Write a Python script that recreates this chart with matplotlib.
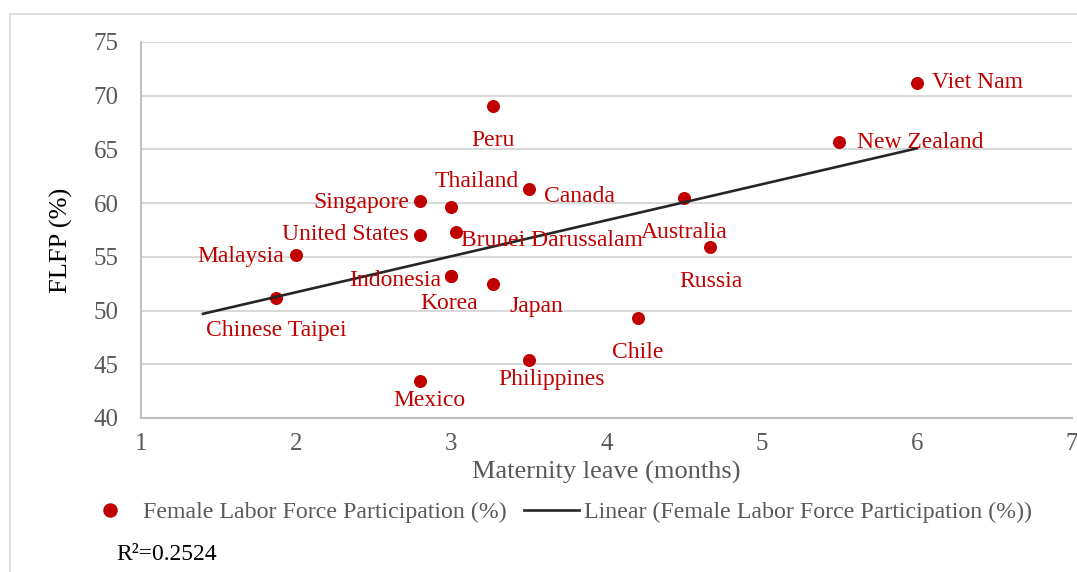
import matplotlib
matplotlib.use("Agg")
import matplotlib.pyplot as plt
from matplotlib.lines import Line2D
from matplotlib.patches import Rectangle

plt.rcParams['font.family'] = ['Liberation Serif', 'DejaVu Serif']

# data
countries = ["Viet Nam", "New Zealand", "Peru", "Thailand", "Canada", "Singapore",
             "United States", "Brunei Darussalam", "Australia", "Malaysia", "Russia",
             "Indonesia", "Korea", "Japan", "Chinese Taipei", "Chile", "Philippines", "Mexico"]
leave_months = [6.0, 5.5, 3.27, 3.0, 3.5, 2.8, 2.8, 3.03, 4.5, 2.0, 4.67,
                3.0, 3.0, 3.27, 1.87, 4.2, 3.5, 2.8]
flfp = [71.2, 65.7, 69.0, 59.6, 61.3, 60.2, 57.0, 57.3, 60.5, 55.2, 55.9,
        53.2, 53.2, 52.5, 51.2, 49.3, 45.4, 43.4]

trend_x = [1.4, 6.0]
trend_y = [49.7, 65.1]
r_squared = 0.2524

# label offsets in pixels (dx, dy, ha)
label_pos = {
    "Viet Nam": (15, 0, "left"),
    "New Zealand": (18, -1, "left"),
    "Peru": (0, -34, "center"),
    "Thailand": (25, 26, "center"),
    "Canada": (15, -7, "left"),
    "Singapore": (-11, -2, "right"),
    "United States": (-12, 1, "right"),
    "Brunei Darussalam": (5, -8, "left"),
    "Australia": (0, -35, "center"),
    "Malaysia": (-12, -2, "right"),
    "Russia": (1, -34, "center"),
    "Indonesia": (-10, -4, "right"),
    "Korea": (-2, -27, "center"),
    "Japan": (43, -23, "center"),
    "Chinese Taipei": (0, -33, "center"),
    "Chile": (0, -34, "center"),
    "Philippines": (23, -20, "center"),
    "Mexico": (9, -19, "center"),
}

red = "#C00000"
grey = "#595959"
W, H = 1077, 572

fig = plt.figure(figsize=(W / 100, H / 100), dpi=100)
# outer chart border (runs off the right and bottom edge)
fig.patches.append(Rectangle((10 / W, -0.1), 1.2, 1.1 - 14 / H, transform=fig.transFigure,
                             fill=False, edgecolor="#d9d9d9", linewidth=1.2))

left, right, top, bottom = 141, 1072, 42, 418
ax = fig.add_axes([left / W, 1 - bottom / H, (right - left) / W, (bottom - top) / H])

ax.scatter(leave_months, flfp, s=88, color=red, zorder=3, linewidths=0)
ax.plot(trend_x, trend_y, color="#262626", linewidth=1.9, zorder=4)

for name, x, y in zip(countries, leave_months, flfp):
    dx, dy, ha = label_pos[name]
    ax.annotate(name, (x, y), xytext=(dx, dy), textcoords="offset pixels",
                ha=ha, va="center", color=red, fontsize=17, zorder=5)

ax.set_xlim(1, 7)
ax.set_ylim(40, 75)
ax.set_yticks(range(40, 80, 5))
ax.set_xticks(range(1, 8))
ax.grid(axis="y", color="#d9d9d9", linewidth=1.5)
ax.set_axisbelow(True)
for s in ["top", "right"]:
    ax.spines[s].set_visible(False)
for s in ["left", "bottom"]:
    ax.spines[s].set_color("#bfbfbf")
    ax.spines[s].set_linewidth(1.5)
ax.tick_params(length=0, labelsize=18, labelcolor=grey)
ax.tick_params(axis="y", pad=16)
ax.tick_params(axis="x", pad=11)

ax.set_xlabel("Maternity leave (months)", fontsize=19, color=grey, labelpad=4)
ax.set_ylabel("FLFP (%)", fontsize=19, color="black")
# label anchor is its right edge after rotation
ax.yaxis.set_label_coords((73 - left) / (right - left), (bottom - 240) / (bottom - top))

handles = [
    Line2D([], [], marker="o", linestyle="none", color=red, markersize=9.4),
    Line2D([], [], color="#262626", linewidth=1.9),
]
fig.legend(handles, ["Female Labor Force Participation (%)",
                     "Linear (Female Labor Force Participation (%))"],
           loc="center left", bbox_to_anchor=(83 / W, 1 - 512 / H), ncol=2,
           frameon=False, fontsize=17.2, labelcolor=grey, handlelength=2.3,
           handletextpad=0.2, columnspacing=0.75, borderpad=0, borderaxespad=0)

fig.text(116 / W, 1 - 555 / H, f"R\u00b2={r_squared}", fontsize=17, color="black",
         ha="left", va="center")

fig.savefig("out.png", dpi=100)
